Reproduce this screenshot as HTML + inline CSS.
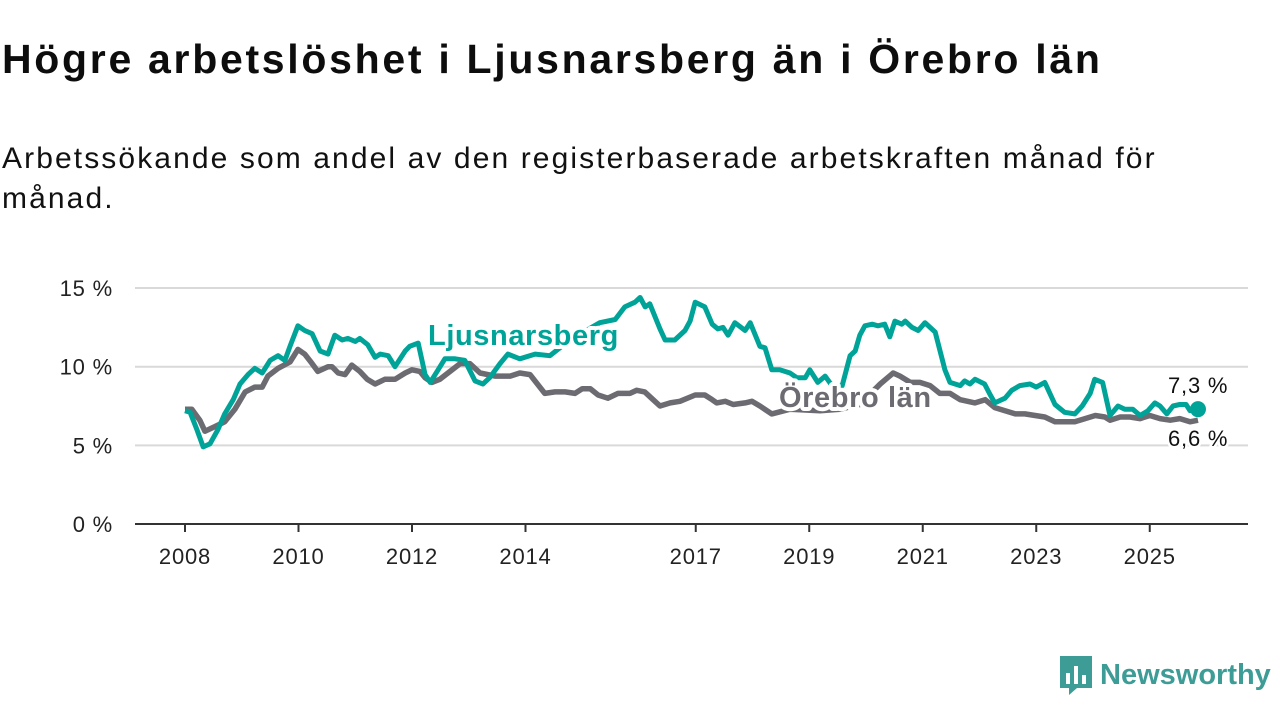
<!DOCTYPE html>
<html><head><meta charset="utf-8"><style>
body{margin:0;width:1280px;height:720px;background:#fff;font-family:"Liberation Sans",sans-serif;overflow:hidden;position:relative;color:#111}
h1{position:absolute;left:2px;top:36px;margin:0;font-size:41px;font-weight:bold;letter-spacing:2.7px;color:#0d0d0d;white-space:nowrap}
p.sub{position:absolute;left:2px;top:139px;margin:0;font-size:30px;line-height:40px;letter-spacing:2.1px;width:1270px;color:#111}
svg{position:absolute;left:0;top:0}
</style></head><body>
<h1>Högre arbetslöshet i Ljusnarsberg än i Örebro län</h1>
<p class="sub">Arbetssökande som andel av den registerbaserade arbetskraften månad för<br>månad.</p>
<svg id="chart" width="1280" height="720"></svg>
<div style="position:absolute;left:1058px;top:655px;height:40px;display:flex;align-items:center">
<svg width="36" height="42" style="position:static"><path d="M2 2h32v32h-15l-8 7v-7h-9z" fill="#3d9c96"/><rect x="8" y="19" width="4" height="11" fill="#fff"/><rect x="16" y="12" width="4" height="18" fill="#fff"/><rect x="24" y="21" width="4" height="9" fill="#fff"/></svg>
<span style="font-size:29px;font-weight:bold;color:#3d9c96;margin-left:6px">Newsworthy</span></div>
<script>
const yTicks=[0,5,10,15];
const yTickLabels=["0 %","5 %","10 %","15 %"];
const xTicks=[2008,2010,2012,2014,2017,2019,2021,2023,2025];
const ljYears=[2008.00,2008.09,2008.21,2008.32,2008.44,2008.58,2008.70,2008.85,2008.97,2009.11,2009.23,2009.36,2009.50,2009.64,2009.76,2009.85,2009.99,2010.11,2010.24,2010.38,2010.52,2010.64,2010.77,2010.87,2011.00,2011.08,2011.22,2011.35,2011.44,2011.58,2011.70,2011.88,2011.96,2012.11,2012.23,2012.32,2012.46,2012.58,2012.76,2012.93,2013.11,2013.25,2013.37,2013.55,2013.69,2013.90,2014.17,2014.43,2014.78,2015.31,2015.58,2015.75,2015.93,2016.02,2016.11,2016.19,2016.37,2016.46,2016.63,2016.81,2016.90,2016.99,2017.16,2017.29,2017.39,2017.48,2017.57,2017.69,2017.87,2017.96,2018.13,2018.22,2018.34,2018.48,2018.66,2018.78,2018.93,2019.01,2019.15,2019.28,2019.40,2019.58,2019.72,2019.81,2019.89,2019.98,2020.11,2020.21,2020.33,2020.42,2020.51,2020.63,2020.69,2020.81,2020.92,2021.04,2021.22,2021.39,2021.48,2021.66,2021.74,2021.83,2021.92,2022.09,2022.19,2022.27,2022.45,2022.57,2022.71,2022.89,2023.00,2023.15,2023.33,2023.50,2023.68,2023.81,2023.95,2024.03,2024.17,2024.30,2024.44,2024.56,2024.70,2024.83,2024.97,2025.09,2025.18,2025.30,2025.41,2025.53,2025.64,2025.71,2025.85];
const ljValues=[7.2,7.1,6.0,4.9,5.1,6.0,7.0,7.9,8.9,9.5,9.9,9.6,10.4,10.7,10.4,11.3,12.6,12.3,12.1,11.0,10.8,12.0,11.7,11.8,11.6,11.8,11.4,10.6,10.8,10.7,10.0,11.0,11.3,11.5,9.5,9.0,9.8,10.5,10.5,10.4,9.1,8.9,9.3,10.2,10.8,10.5,10.8,10.7,11.7,12.8,13.0,13.8,14.1,14.4,13.8,14.0,12.4,11.7,11.7,12.3,12.9,14.1,13.8,12.7,12.4,12.5,12.0,12.8,12.3,12.8,11.3,11.2,9.8,9.8,9.6,9.3,9.3,9.8,9.0,9.4,8.8,8.8,10.7,11.0,12.0,12.6,12.7,12.6,12.7,11.9,12.9,12.7,12.9,12.5,12.3,12.8,12.2,9.8,9.0,8.8,9.1,8.9,9.2,8.9,8.2,7.7,8.0,8.5,8.8,8.9,8.7,9.0,7.6,7.1,7.0,7.5,8.3,9.2,9.0,6.9,7.5,7.3,7.3,6.9,7.2,7.7,7.5,7.0,7.5,7.6,7.6,7.2,7.3];
const orYears=[2008.00,2008.12,2008.26,2008.35,2008.53,2008.70,2008.88,2009.06,2009.23,2009.36,2009.46,2009.64,2009.85,2009.99,2010.11,2010.24,2010.34,2010.52,2010.59,2010.70,2010.82,2010.94,2011.08,2011.21,2011.35,2011.52,2011.70,2011.88,2012.00,2012.14,2012.23,2012.35,2012.49,2012.67,2012.85,2013.02,2013.20,2013.46,2013.73,2013.90,2014.08,2014.34,2014.52,2014.70,2014.87,2015.00,2015.14,2015.28,2015.45,2015.63,2015.84,2015.96,2016.10,2016.22,2016.37,2016.55,2016.72,2016.99,2017.16,2017.29,2017.37,2017.52,2017.66,2017.87,2017.99,2018.13,2018.34,2018.66,2019.19,2019.54,2019.89,2020.25,2020.48,2020.60,2020.78,2020.95,2021.13,2021.30,2021.48,2021.66,2021.92,2022.10,2022.27,2022.45,2022.63,2022.80,2022.98,2023.15,2023.33,2023.51,2023.68,2023.86,2024.04,2024.21,2024.30,2024.48,2024.65,2024.83,2025.00,2025.18,2025.36,2025.53,2025.71,2025.85];
const orValues=[7.3,7.3,6.6,5.9,6.2,6.5,7.3,8.4,8.7,8.7,9.4,9.9,10.3,11.1,10.8,10.2,9.7,10.0,10.0,9.6,9.5,10.1,9.7,9.2,8.9,9.2,9.2,9.6,9.8,9.7,9.3,9.0,9.2,9.7,10.2,10.2,9.6,9.4,9.4,9.6,9.5,8.3,8.4,8.4,8.3,8.6,8.6,8.2,8.0,8.3,8.3,8.5,8.4,8.0,7.5,7.7,7.8,8.2,8.2,7.9,7.7,7.8,7.6,7.7,7.8,7.5,7.0,7.3,7.2,7.3,7.6,8.9,9.6,9.4,9.0,9.0,8.8,8.3,8.3,7.9,7.7,7.9,7.4,7.2,7.0,7.0,6.9,6.8,6.5,6.5,6.5,6.7,6.9,6.8,6.6,6.8,6.8,6.7,6.9,6.7,6.6,6.7,6.5,6.6];
const NS="http://www.w3.org/2000/svg";
const svg=document.getElementById('chart');
const X=y=>185+(y-2008)*56.75;
const Y=v=>524-v*15.73;
function mk(t,a,p){const e=document.createElementNS(NS,t);for(const k in a)e.setAttribute(k,a[k]);(p||svg).appendChild(e);return e;}
yTicks.forEach((v,i)=>{
  const g=mk('line',{x1:135,x2:1248,y1:Y(v),y2:Y(v),stroke:v===0?'#333':'#d9d9d9','stroke-width':2});
  
  
  const t=mk('text',{x:113,y:Y(v)+8,'text-anchor':'end','font-size':22,'letter-spacing':0.8,fill:'#222','font-family':'Liberation Sans, sans-serif'});
  t.textContent=yTickLabels[i];
  
  
});
xTicks.forEach(yr=>{
  const l=mk('line',{x1:X(yr),x2:X(yr),y1:524,y2:532,stroke:'#333','stroke-width':2});
  
  
  const t=mk('text',{x:X(yr),y:564,'text-anchor':'middle','font-size':22,'letter-spacing':0.8,fill:'#222','font-family':'Liberation Sans, sans-serif'});
  t.textContent=yr;
  
  
});
function path(ys,vs){return ys.map((y,i)=>(i?'L':'M')+X(y).toFixed(1)+','+Y(vs[i]).toFixed(1)).join('');}
const po=mk('path',{d:path(orYears,orValues),fill:'none',stroke:'#6d6b72','stroke-width':5.5,'stroke-linejoin':'round'});


const pl=mk('path',{d:path(ljYears,ljValues),fill:'none',stroke:'#00a398','stroke-width':5,'stroke-linejoin':'round'});


const n=ljYears.length-1;
const dot=mk('circle',{cx:X(ljYears[n]),cy:Y(ljValues[n]),r:8,fill:'#00a398'});


function lab(txt,x,y,col,name,bold,size,ls){
  const t=mk('text',{x:x,y:y,'font-size':size,'letter-spacing':ls,fill:col,'font-weight':bold?'bold':'normal',stroke:'#fff','stroke-width':bold?8:5,'paint-order':'stroke','stroke-linejoin':'round','font-family':'Liberation Sans, sans-serif'});
  t.textContent=txt;
  
  
}
lab('Ljusnarsberg',428,345,'#00a398','ljusnarsberg-label',true,29,0.6);
lab('Örebro län',779,407,'#6d6b72','orebro-lan-label',true,29,0.6);
lab(ljValues[n].toFixed(1).replace('.',',')+' %',1168,393,'#111','ljusnarsberg-end-value',false,22,0.8);
lab(orValues[orValues.length-1].toFixed(1).replace('.',',')+' %',1168,446,'#111','orebro-end-value',false,22,0.8);
</script>
</body></html>
